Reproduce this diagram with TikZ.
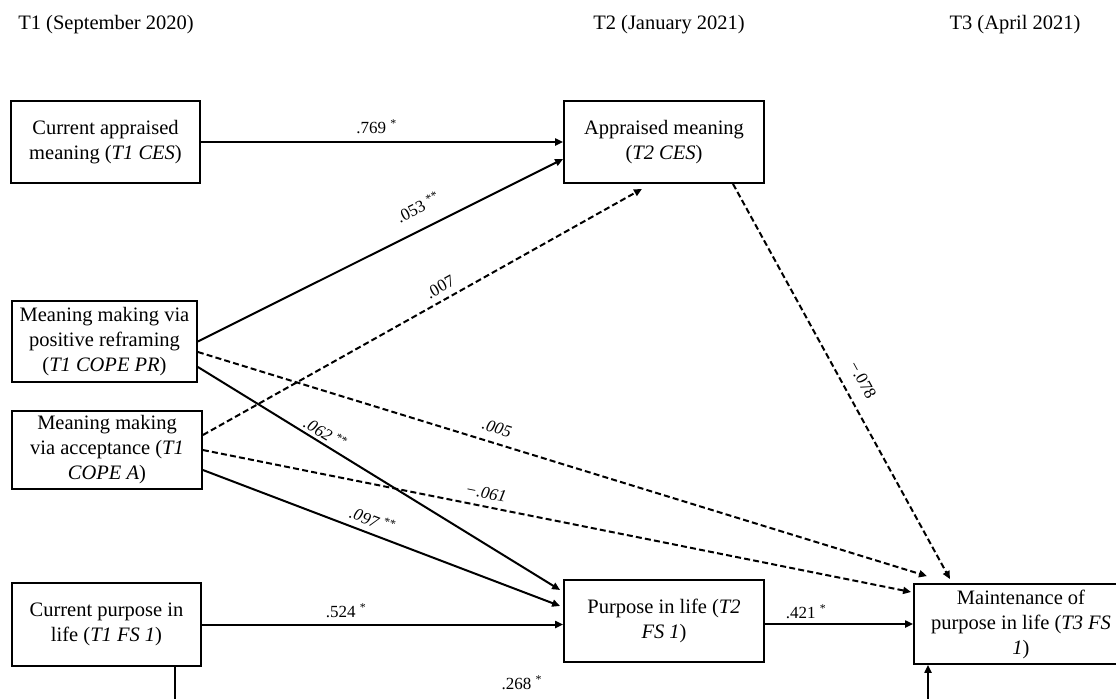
\documentclass[tikz,border=0pt]{standalone}
\usepackage{fontspec}
\setmainfont{Liberation Serif}
\usetikzlibrary{arrows.meta,calc}
\begin{document}
\begin{tikzpicture}[x=0.5pt,y=-0.5pt,
  box/.style={draw, line width=0.9pt, inner sep=0pt, align=center,
    font=\fontsize{10.25}{12.5}\selectfont},
  ttl/.style={font=\fontsize{10.25}{12.5}\selectfont, inner sep=0pt},
  coef/.style={font=\fontsize{8.5}{10}\selectfont, inner sep=0pt},
  sol/.style={line width=1pt, -{Triangle[length=4pt,width=3.5pt]}},
  dsh/.style={sol, dash pattern=on 3pt off 1.6pt},
]
\useasboundingbox (0,0) rectangle (1116,698);
\clip (0,0) rectangle (1116,698);

% time headings
\node[ttl] (t1) at (106,25) {T1 (September 2020)};
\node[ttl] (t2) at (669,25) {T2 (January 2021)};
\node[ttl] (t3) at (1015,25) {T3 (April 2021)};

% boxes
\node[box, minimum width=94.5pt, minimum height=41pt] (cam) at (105.5,142)
  {Current appraised\\meaning (\textit{T1 CES})};
\node[box, minimum width=100pt, minimum height=41pt] (am) at (664,142)
  {Appraised meaning\\(\textit{T2 CES})};
\node[box, minimum width=92.5pt, minimum height=40.5pt] (pr) at (104.5,341.5)
  {Meaning making via\\positive reframing\\(\textit{T1 COPE PR})};
\node[box, minimum width=95pt, minimum height=39pt] (acc) at (107,450)
  {Meaning making\\via acceptance (\textit{T1}\\\textit{COPE A})};
\node[box, minimum width=94.5pt, minimum height=41.5pt] (cpl) at (106.5,624.5)
  {Current purpose in\\life (\textit{T1 FS 1})};
\node[box, minimum width=100pt, minimum height=41pt] (pl) at (664,621)
  {Purpose in life (\textit{T2}\\\textit{FS 1})};
\node[box, minimum width=107pt, minimum height=40pt] (mt) at (1021,624)
  {Maintenance of\\purpose in life (\textit{T3 FS}\\\textit{1})};

% paths
\draw[sol] (cam.east) -- node[coef, pos=0.486, yshift=7.5pt] {.769 \textsuperscript{*}} (am.west);
\draw[sol] (pr.east) -- node[coef, sloped, pos=0.63, yshift=10.9pt] {.053 \textsuperscript{**}} ([yshift=-8.5pt]am.west);
\draw[dsh] ([yshift=7.5pt]acc.east) -- node[coef, sloped, pos=0.555, yshift=6.5pt] {.007} ([xshift=-11pt,yshift=-2.5pt]am.south);
\draw[dsh] ([xshift=34.5pt]am.south) -- node[coef, sloped, pos=0.52, yshift=9.6pt] {−.078} ([xshift=-35.5pt,yshift=2pt]mt.north);
\draw[dsh] ([yshift=-5.25pt]pr.east) -- node[coef, sloped, pos=0.404, yshift=7.6pt] {\textit{.005}} ([xshift=-47pt,yshift=3.5pt]mt.north);
\draw[sol] ([yshift=-12.75pt]pr.east) -- node[coef, sloped, pos=0.338, yshift=5.3pt] {\textit{.062} \textsuperscript{**}} ([xshift=-1.5pt,yshift=15.5pt]pl.west);
\draw[dsh] (acc.east) -- node[coef, sloped, pos=0.396, yshift=6.8pt] {\textit{−.061}} ([xshift=-1pt,yshift=16pt]mt.west);
\draw[sol] ([yshift=-10pt]acc.east) -- node[coef, sloped, pos=0.462, yshift=7pt] {\textit{.097} \textsuperscript{**}} ([xshift=-1.5pt,yshift=7.5pt]pl.west);
\draw[sol] (cpl.east) -- node[coef, pos=0.40, yshift=7pt] {.524 \textsuperscript{*}} (cpl.east -| pl.west);
\draw[sol] (pl.east |- mt.west) -- node[coef, pos=0.28, yshift=6.25pt] {.421 \textsuperscript{*}} (mt.west);

\coordinate (bl) at (175,710);
\coordinate (br) at (928,710);
\draw[sol] ([xshift=34.25pt]cpl.south) -- (bl) -- node[coef, pos=0.461, yshift=13.5pt] {.268 \textsuperscript{*}} (br) -- ([xshift=-46.5pt]mt.south);
\end{tikzpicture}
\end{document}
